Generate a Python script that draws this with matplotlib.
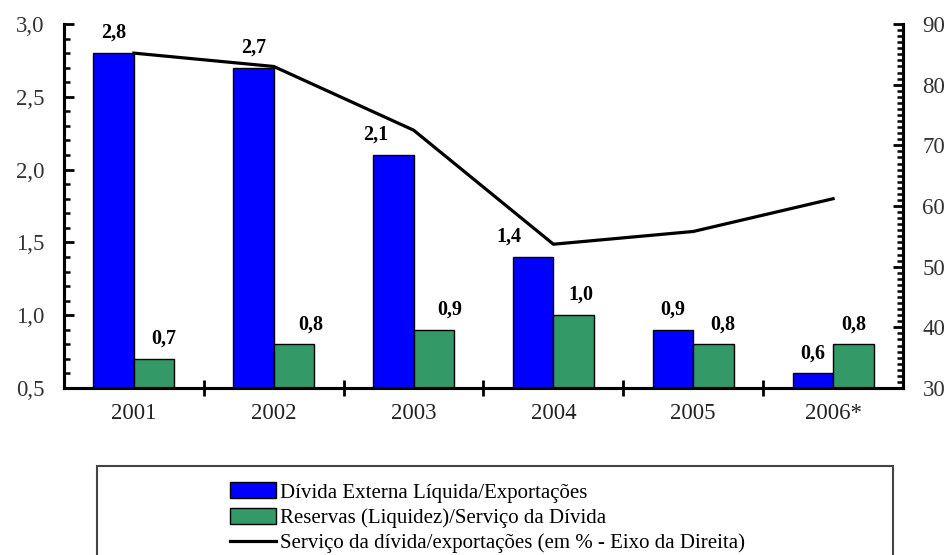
import matplotlib.pyplot as plt
import numpy as np
from matplotlib.patches import Rectangle
from matplotlib.ticker import MultipleLocator, FixedLocator

# dados
anos = ['2001', '2002', '2003', '2004', '2005', '2006*']
divida_export = [2.8, 2.7, 2.1, 1.4, 0.9, 0.6]
reservas_servico = [0.7, 0.8, 0.9, 1.0, 0.8, 0.8]
servico_export = [85.2, 83.0, 72.5, 53.7, 55.8, 61.2]

# deslocamento horizontal dos rótulos (pixels), como no original
desl_azul = [0, 0, -18, -24, 0, 0]
desl_verde = [10, 17, 16, 7, 9, 0]

plt.rcParams['font.family'] = ['Liberation Serif', 'DejaVu Serif']

fig = plt.figure(figsize=(9.5, 5.55), dpi=100)
W, H = 950, 555
ax = fig.add_axes([64 / W, 1 - 388 / H, (903 - 64) / W, (388 - 24) / H])
ax2 = ax.twinx()

x = np.arange(len(anos))
w = 0.29
azul = ax.bar(x - w, divida_export, w, align='edge', color='#0000ff',
              edgecolor='black', linewidth=1, zorder=2,
              label='Dívida Externa Líquida/Exportações')
verde = ax.bar(x, reservas_servico, w, align='edge', color='#339966',
               edgecolor='black', linewidth=1, zorder=2,
               label='Reservas (Liquidez)/Serviço da Dívida')

for i in range(len(anos)):
    ax.annotate(f'{divida_export[i]:.1f}'.replace('.', ','),
                (x[i] - w / 2, divida_export[i]), xytext=(desl_azul[i] * 0.72, 14.5),
                textcoords='offset points', ha='center', va='center',
                fontsize=14.5, fontweight='bold')
    ax.annotate(f'{reservas_servico[i]:.1f}'.replace('.', ','),
                (x[i] + w / 2, reservas_servico[i]), xytext=(desl_verde[i] * 0.72, 14.5),
                textcoords='offset points', ha='center', va='center',
                fontsize=14.5, fontweight='bold')

linha, = ax2.plot(x, servico_export, color='black', linewidth=2.3, zorder=3,
                  label='Serviço da dívida/exportações (em % - Eixo da Direita)')

ax.set_xlim(-0.5, len(anos) - 0.5)
ax.set_ylim(0.5, 3.0)
ax2.set_ylim(30, 90)

ax.yaxis.set_minor_locator(MultipleLocator(0.1))
ax.set_yticks(np.arange(0.5, 3.01, 0.5))
ax.set_yticklabels([f'{v:.1f}'.replace('.', ',') for v in np.arange(0.5, 3.01, 0.5)])
ax2.yaxis.set_major_locator(MultipleLocator(10))
ax2.yaxis.set_minor_locator(MultipleLocator(1))

ax.set_xticks(x)
ax.set_xticklabels(anos)
ax.xaxis.set_minor_locator(FixedLocator(np.arange(0.5, len(anos) - 1, 1.0)))

ax.tick_params(axis='x', which='major', length=0, pad=11, labelsize=16.5, colors='#222222')
ax.tick_params(axis='x', which='minor', direction='inout', length=12, width=2)
ax.tick_params(axis='y', which='major', direction='in', length=7, width=2, pad=14,
               labelsize=16.5, labelcolor='#333333')
ax.tick_params(axis='y', which='minor', direction='in', length=4, width=1.8)
ax2.tick_params(axis='y', which='major', direction='in', length=7, width=2, pad=14,
                labelsize=16.5, labelcolor='#333333')
ax2.tick_params(axis='y', which='minor', direction='in', length=4, width=1.8)

for a in (ax, ax2):
    a.spines['top'].set_visible(False)
    for s in ('left', 'right', 'bottom'):
        a.spines[s].set_linewidth(2.2)

# caixa da legenda (cortada na base, como no original)
fig.patches.append(Rectangle((97 / W, -0.05), (893 - 97) / W, (1 - 466 / H) + 0.05,
                             transform=fig.transFigure, fill=False,
                             edgecolor='#444444', linewidth=1.5))
fig.legend(handles=[azul, verde, linha], loc='upper left',
           bbox_to_anchor=(220 / W, 1 - 472 / H), frameon=False, fontsize=15,
           handlelength=2.2, handleheight=0.8, handletextpad=0.2,
           labelspacing=0.25, borderpad=0)

fig.savefig('out.png', dpi=100)
